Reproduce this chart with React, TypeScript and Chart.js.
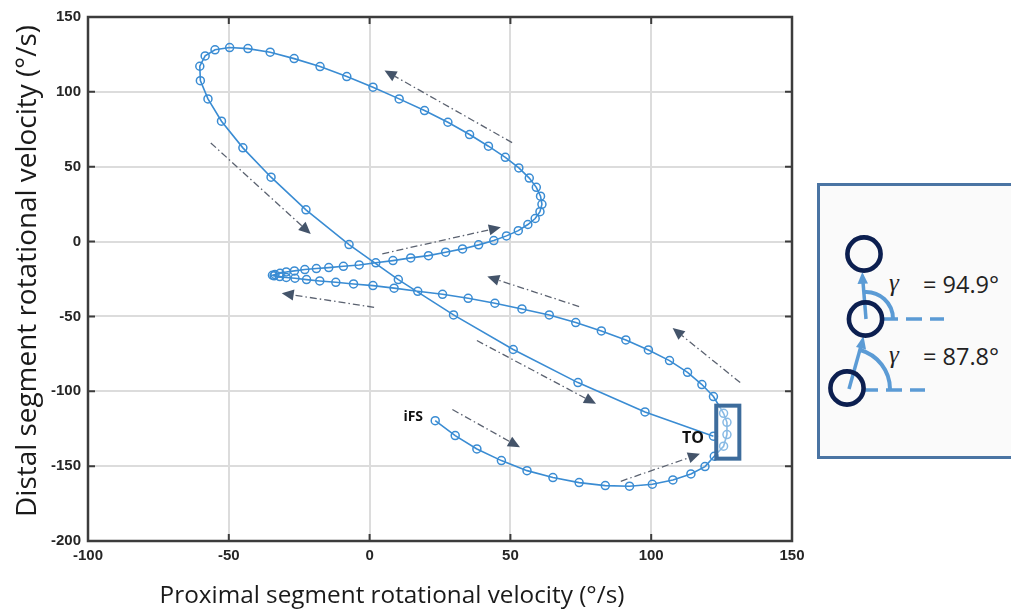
import React, { useEffect, useRef } from "react";
import { Chart, registerables } from "chart.js";

Chart.register(...registerables);

// Trajectory (iFS -> TO), proximal vs distal segment rotational velocity (°/s)
const proximalVelocity = [
  23.3, 30.4, 38.1, 46.8, 55.9, 65.1, 74.4, 83.7, 92.3, 100.4, 107.7, 114.1, 119.1, 122.4,
  125.7, 126.9, 126.9, 125.7,
  122.1, 118, 112.9, 106.5, 99, 91, 82.3, 73.2, 63.8, 54.1, 44.5, 35, 25.9, 17.1, 8.7, 1.2,
  -5.7, -12, -17.7, -22.4, -26.5, -29.6, -31.9, -33.9, -34.5,
  -33.6, -31.8, -29.6, -26.7, -23, -18.9, -14.5, -9.3, -3.7, 2.2, 8.3, 14.6, 20.9, 27, 33,
  38.7, 44.1, 48.6, 52.8, 56.2, 58.8, 60.5, 61.2, 60.7, 59.2, 56.7, 53, 48.2, 42.2, 35.5,
  27.8, 19.5, 10.5, 1.2, -8.1, -17.6, -26.8, -35.3, -43.2, -49.7, -54.9, -58.4, -60.3,
  -60.1, -57.4, -52.6, -45, -35, -22.6, -7.3, 10.2, 29.8, 51, 74, 97.8, 122.1,
];
const distalVelocity = [
  -119.6, -129.6, -138.5, -146.3, -153, -157.6, -161, -163, -163.4, -162.1, -159.2, -155.2, -150.3, -143.4,
  -136.7, -128.9, -120.7, -114.7,
  -103.5, -95.5, -87.3, -79.5, -72.4, -65.7, -59.7, -54.1, -49, -45, -41.2, -37.9, -35.2, -33.2, -31.1, -29.4,
  -28.3, -27.2, -26.3, -25.4, -24.5, -24, -23.4, -22.9, -22.5,
  -22, -21.2, -20.3, -19.6, -18.7, -18, -17.4, -16.5, -15.6, -14.2, -12.7, -10.9, -9.4, -7.1, -4.9,
  -2.2, 0.7, 3.8, 7.3, 11.4, 15.4, 20, 24.9, 30.3, 36.2, 42.4, 49.2, 56.3, 63.7, 71.5,
  79.7, 87.5, 95.3, 103.1, 110.2, 116.9, 122.2, 126.5, 128.9, 129.6, 128.1, 124, 117.1,
  107.5, 95.3, 80.4, 62.6, 43, 21.2, -2.0, -25.4, -49, -72.1, -94.2, -113.8, -130,
];

const xTickValues = [-100, -50, 0, 50, 100, 150];
const yTickValues = [-200, -150, -100, -50, 0, 50, 100, 150];

// Direction arrows (data coordinates): start -> tip
const arrowFromX = [50.6, -56.4, 4.5, 1.6, 74.4, 131.6, 38.1, 29.4, 89.2];
const arrowFromY = [66.1, 65.9, -8.2, -43.9, -43.4, -94.2, -66.1, -112.2, -160.1];
const arrowToX = [5.3, -20.9, 46.6, -31.2, 41.8, 107.6, 80.4, 53.4, 117.3];
const arrowToY = [114.3, 5.1, 9.6, -34.5, -23.4, -57.7, -108.4, -137.4, -141.8];

// Event labels
const eventLabels = ["iFS", "TO"];
const eventX = [15.5, 114.8];
const eventY = [-117.4, -131.6];

// Highlight box around the transition points
const boxX = [123.1, 131.3];
const boxY = [-109.6, -145];

const xTitle = "Proximal segment rotational velocity (°/s)";
const yTitle = "Distal segment rotational velocity (°/s)";

const LINE_BLUE = "#3a8cd3";

function fitFont(ctx: CanvasRenderingContext2D, text: string, target: number, family: string, weight = "normal") {
  ctx.font = `${weight} 20px ${family}`;
  const w = ctx.measureText(text).width;
  const size = (20 * target) / w;
  ctx.font = `${weight} ${size.toFixed(2)}px ${family}`;
}

const overlayPlugin = {
  id: "overlay",
  afterDatasetsDraw(chart: any) {
    const { ctx, scales } = chart;
    const x = scales.x;
    const y = scales.y;
    ctx.save();
    // direction arrows
    for (let i = 0; i < arrowFromX.length; i++) {
      const x1 = x.getPixelForValue(arrowFromX[i]);
      const y1 = y.getPixelForValue(arrowFromY[i]);
      const x2 = x.getPixelForValue(arrowToX[i]);
      const y2 = y.getPixelForValue(arrowToY[i]);
      const len = Math.hypot(x2 - x1, y2 - y1);
      const dx = (x2 - x1) / len;
      const dy = (y2 - y1) / len;
      const headL = 12;
      const headW = 5.5;
      const bx = x2 - dx * headL;
      const by = y2 - dy * headL;
      ctx.beginPath();
      ctx.setLineDash([7, 3, 1.5, 3]);
      ctx.strokeStyle = "#5b6270";
      ctx.lineWidth = 1.3;
      ctx.moveTo(x1, y1);
      ctx.lineTo(bx, by);
      ctx.stroke();
      ctx.setLineDash([]);
      ctx.beginPath();
      ctx.fillStyle = "#44546a";
      ctx.moveTo(x2, y2);
      ctx.lineTo(bx - dy * headW, by + dx * headW);
      ctx.lineTo(bx + dy * headW, by - dx * headW);
      ctx.closePath();
      ctx.fill();
    }
    // highlight box
    const bx1 = x.getPixelForValue(boxX[0]);
    const bx2 = x.getPixelForValue(boxX[1]);
    const by1 = y.getPixelForValue(boxY[0]);
    const by2 = y.getPixelForValue(boxY[1]);
    ctx.fillStyle = "rgba(255,255,255,0.4)";
    ctx.fillRect(bx1, by1, bx2 - bx1, by2 - by1);
    ctx.strokeStyle = "#3d6c9c";
    ctx.lineWidth = 4;
    ctx.strokeRect(bx1, by1, bx2 - bx1, by2 - by1);
    // event labels
    ctx.fillStyle = "#111";
    ctx.textAlign = "center";
    ctx.textBaseline = "middle";
    for (let i = 0; i < eventLabels.length; i++) {
      ctx.font = `bold ${i === 0 ? 14 : 16}px "Open Sans", sans-serif`;
      ctx.fillText(eventLabels[i], x.getPixelForValue(eventX[i]), y.getPixelForValue(eventY[i]));
    }
    ctx.restore();
  },
  afterDraw(chart: any) {
    const { ctx, chartArea: a, scales } = chart;
    const x = scales.x;
    const y = scales.y;
    ctx.save();
    // inner ticks
    ctx.strokeStyle = "#3c3c3c";
    ctx.lineWidth = 2;
    const tl = 7;
    ctx.beginPath();
    for (const v of xTickValues) {
      const px = x.getPixelForValue(v);
      ctx.moveTo(px, a.bottom);
      ctx.lineTo(px, a.bottom - tl);
      ctx.moveTo(px, a.top);
      ctx.lineTo(px, a.top + tl);
    }
    for (const v of yTickValues) {
      const py = y.getPixelForValue(v);
      ctx.moveTo(a.left, py);
      ctx.lineTo(a.left + tl, py);
      ctx.moveTo(a.right, py);
      ctx.lineTo(a.right - tl, py);
    }
    ctx.stroke();
    // frame
    ctx.lineWidth = 2.5;
    ctx.strokeRect(a.left, a.top, a.right - a.left, a.bottom - a.top);
    // titles
    ctx.fillStyle = "#1a1a1a";
    ctx.textAlign = "center";
    ctx.textBaseline = "middle";
    const fam = '"Open Sans", sans-serif';
    fitFont(ctx, xTitle, 465, fam);
    ctx.fillText(xTitle, 392, 596);
    ctx.translate(28, 271);
    ctx.rotate(-Math.PI / 2);
    fitFont(ctx, yTitle, 492, fam);
    ctx.fillText(yTitle, 0, 0);
    ctx.restore();
  },
};

function Inset() {
  const blue = "#5b9bd5";
  const navy = "#0c1f50";
  return (
    <svg
      width={1011}
      height={611}
      style={{ position: "absolute", left: 0, top: 0, pointerEvents: "none" }}
    >
      <rect x={818.5} y={184.5} width={200} height={273} fill="#fafafa" stroke="#4a74a3" strokeWidth={3} />
      {/* dashed reference lines */}
      <line x1={862} y1={390} x2={925} y2={390} stroke={blue} strokeWidth={3.5} strokeDasharray="16 8" />
      <line x1={882} y1={319} x2={944} y2={319} stroke={blue} strokeWidth={3.5} strokeDasharray="16 8" />
      {/* angle arcs */}
      <path d="M 860.3 350 A 41 41 0 0 1 890 389" fill="none" stroke={blue} strokeWidth={4} />
      <path d="M 863.6 292 A 27 27 0 0 1 893 319" fill="none" stroke={blue} strokeWidth={4} />
      {/* segment vectors */}
      <line x1={849} y1={389} x2={861} y2={346} stroke={blue} strokeWidth={3.5} />
      <polygon points="863.5,336 856,347 866,349.5" fill={blue} />
      <line x1={866} y1={319} x2={863} y2={282} stroke={blue} strokeWidth={3.5} />
      <polygon points="862.3,272 857.5,284 868,283.5" fill={blue} />
      {/* joint circles */}
      <circle cx={864} cy={254} r={16.6} fill="none" stroke={navy} strokeWidth={4.6} />
      <circle cx={865.5} cy={319} r={16.6} fill="none" stroke={navy} strokeWidth={4.6} />
      <circle cx={847} cy={388} r={16.6} fill="none" stroke={navy} strokeWidth={4.6} />
      {/* labels */}
      <text x={889} y={291} fontFamily='"Liberation Serif", serif' fontStyle="italic" fontSize={25} fill="#222">
        γ
      </text>
      <text x={923} y={293} fontFamily='"Open Sans", sans-serif' fontSize={23.5} fill="#222">
        = 94.9°
      </text>
      <text x={889} y={363} fontFamily='"Liberation Serif", serif' fontStyle="italic" fontSize={25} fill="#222">
        γ
      </text>
      <text x={923} y={365} fontFamily='"Open Sans", sans-serif' fontSize={23.5} fill="#222">
        = 87.8°
      </text>
    </svg>
  );
}

export default function App() {
  const canvasRef = useRef<HTMLCanvasElement | null>(null);

  useEffect(() => {
    if (!canvasRef.current) return;
    const points = proximalVelocity.map((v, i) => ({ x: v, y: distalVelocity[i] }));
    const tickFont = { family: '"Liberation Sans", Arial, sans-serif', size: 15, weight: "bold" as const };
    const chart = new Chart(canvasRef.current, {
      type: "scatter",
      data: {
        datasets: [
          {
            data: points,
            showLine: true,
            borderColor: LINE_BLUE,
            borderWidth: 1.6,
            pointRadius: 4,
            pointBorderWidth: 1.5,
            pointBorderColor: LINE_BLUE,
            pointBackgroundColor: "rgba(255,255,255,0)",
            tension: 0,
          },
        ],
      },
      options: {
        animation: false,
        responsive: false,
        devicePixelRatio: 1,
        layout: { padding: { top: 17, right: 219, bottom: 0, left: 0 } },
        plugins: { legend: { display: false }, tooltip: { enabled: false } },
        scales: {
          x: {
            type: "linear",
            min: -100,
            max: 150,
            afterFit: (s: any) => {
              s.height = 70;
            },
            afterBuildTicks: (s: any) => {
              s.ticks = xTickValues.map((v) => ({ value: v }));
            },
            ticks: { font: tickFont, color: "#262626", padding: 6 },
            grid: { color: "#dcdcdc", lineWidth: 2, drawTicks: false },
            border: { display: false },
          },
          y: {
            type: "linear",
            min: -200,
            max: 150,
            afterFit: (s: any) => {
              s.width = 88;
            },
            afterBuildTicks: (s: any) => {
              s.ticks = yTickValues.map((v) => ({ value: v }));
            },
            ticks: { font: tickFont, color: "#262626", padding: 7 },
            grid: { color: "#dcdcdc", lineWidth: 2, drawTicks: false },
            border: { display: false },
          },
        },
      },
      plugins: [overlayPlugin],
    });
    return () => chart.destroy();
  }, []);

  return (
    <div style={{ position: "fixed", left: 0, top: 0, width: 1011, height: 611, background: "#fff" }}>
      <canvas ref={canvasRef} width={1011} height={611} style={{ width: 1011, height: 611 }} />
      <Inset />
    </div>
  );
}
